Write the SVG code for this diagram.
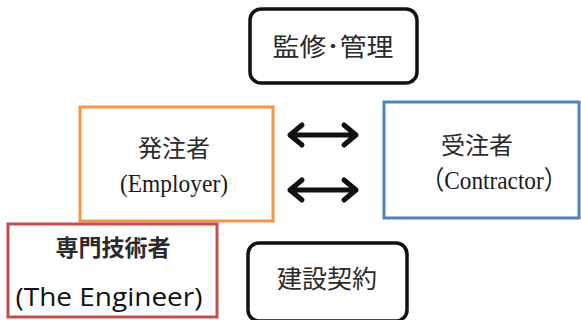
<svg xmlns="http://www.w3.org/2000/svg" width="581" height="320" viewBox="0 0 581 320">
<style>
.box{fill:#fff;stroke-width:3}
.blk{stroke:#111;stroke-width:3.5}
.cjk{font-family:"Noto Sans CJK JP","Noto Sans CJK SC",sans-serif;fill:#2a2a2a;text-anchor:middle}
.ser{font-family:"Liberation Serif","Noto Sans CJK JP",serif;fill:#1a1a1a;text-anchor:middle}
.arr{fill:none;stroke:#111;stroke-width:5;stroke-linecap:round;stroke-linejoin:round}
</style>
<rect width="581" height="320" fill="#fff"/>
<g id="kanri">
<rect class="box blk" x="250" y="9" width="167" height="74" rx="11"/>
<text class="cjk" x="333" y="56" font-size="25" textLength="121" lengthAdjust="spacingAndGlyphs">監修･管理</text>
</g>
<g id="employer">
<rect class="box" stroke="#F79646" x="80" y="107" width="193" height="114"/>
<text class="cjk" x="174" y="157" font-size="24">発注者</text>
<text class="ser" x="174" y="192" font-size="26" textLength="108" lengthAdjust="spacingAndGlyphs">(Employer)</text>
</g>
<g id="contractor">
<rect class="box" stroke="#4F81BD" x="384" y="102" width="195" height="116"/>
<text class="cjk" x="477" y="154" font-size="24">受注者</text>
<text class="ser" x="494" y="189" font-size="26" textLength="146" lengthAdjust="spacingAndGlyphs">（Contractor）</text>
</g>
<g id="engineer">
<rect class="box" stroke="#C0504D" x="8" y="224" width="209" height="93"/>
<text class="cjk" x="113" y="256" font-size="23" font-weight="bold" fill="#111">専門技術者</text>
<text x="109" y="306" font-size="25" font-family="'Open Sans','Noto Sans',sans-serif" fill="#111" text-anchor="middle" textLength="187" lengthAdjust="spacingAndGlyphs">(The Engineer)</text>
</g>
<g id="keiyaku">
<rect class="box blk" x="248" y="243" width="159" height="78" rx="11"/>
<text class="cjk" x="327" y="288" font-size="25">建設契約</text>
</g>
<g id="connectors">
<path class="arr" d="M290 135H356M302 125L290 135L302 145M344 125L356 135L344 145"/>
<path class="arr" d="M290 190H356M302 180L290 190L302 200M344 180L356 190L344 200"/>
</g>
</svg>
